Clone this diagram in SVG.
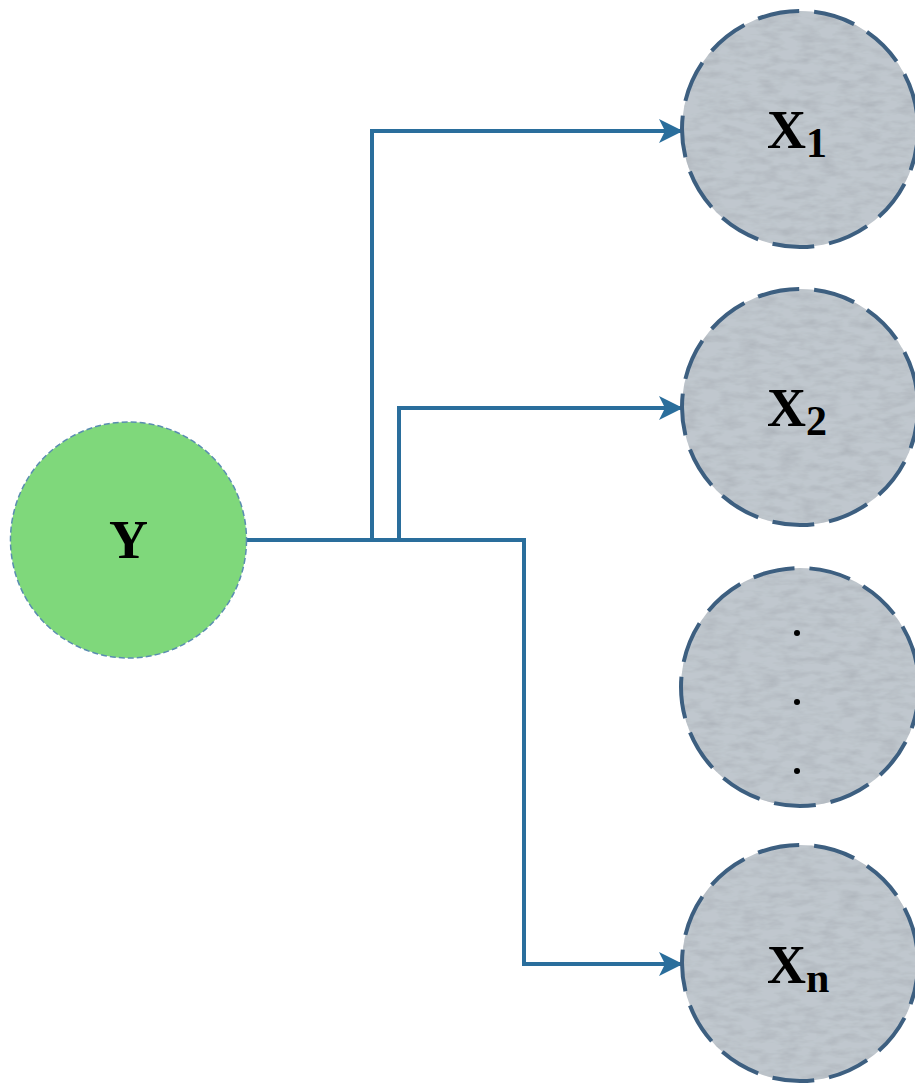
<svg xmlns="http://www.w3.org/2000/svg" width="915" height="1084" viewBox="0 0 915 1084">
  <style>
    .xfill { fill: #c0c7ce; }
    .xnode { fill: none; stroke: #3d5f80; stroke-width: 4; stroke-dasharray: 42 15; }
    .ynode { fill: #7fd87b; stroke: #5a8db0; stroke-width: 1.5; stroke-dasharray: 6 3; }
    .lbl { font-family: "Liberation Serif", "Times New Roman", serif; font-weight: bold; font-size: 54px; fill: #000; }
    .sub { font-size: 42px; }
    .conn { fill: none; stroke: #2a6e9c; stroke-width: 4; }
    .dot { fill: #000; }
  </style>
  <defs>
    <filter id="noise" x="0" y="0" width="100%" height="100%">
      <feTurbulence type="fractalNoise" baseFrequency="0.05 0.14" numOctaves="3" seed="4" result="t"/>
      <feColorMatrix in="t" type="matrix" values="0 0 0 0 0.40  0 0 0 0 0.43  0 0 0 0 0.47  0 0 0 -1.4 0.85" result="g"/>
      <feComposite in="g" in2="SourceGraphic" operator="in" result="n"/>
      <feMerge><feMergeNode in="SourceGraphic"/><feMergeNode in="n"/></feMerge>
    </filter>
    <marker id="arrow" markerWidth="24" markerHeight="24" viewBox="0 0 24 24" refX="23" refY="12" orient="auto" markerUnits="userSpaceOnUse">
      <path d="M0,0 L24,12 L0,24 L6,12 Z" fill="#2a6e9c"/>
    </marker>
  </defs>

  <g id="connectors">
    <path class="conn" d="M246,540 L524,540 L524,964 L682,964" marker-end="url(#arrow)"/>
    <path class="conn" d="M372,540 L372,131 L682,131" marker-end="url(#arrow)"/>
    <path class="conn" d="M399,540 L399,408 L682,408" marker-end="url(#arrow)"/>
  </g>

  <g id="node-Y">
    <circle class="ynode" cx="128.5" cy="540" r="118"/>
    <text class="lbl" x="128.5" y="558" text-anchor="middle">Y</text>
  </g>

  <g id="node-X1">
    <circle class="xfill" cx="800" cy="129" r="118" filter="url(#noise)"/>
    <circle class="xnode" cx="800" cy="129" r="118"/>
    <text class="lbl" x="767" y="148">X<tspan class="sub" dy="9">1</tspan></text>
  </g>

  <g id="node-X2">
    <circle class="xfill" cx="800" cy="407" r="118" filter="url(#noise)"/>
    <circle class="xnode" cx="800" cy="407" r="118"/>
    <text class="lbl" x="767" y="426">X<tspan class="sub" dy="9">2</tspan></text>
  </g>

  <g id="node-dots">
    <circle class="xfill" cx="800" cy="687" r="119" filter="url(#noise)"/>
    <circle class="xnode" cx="800" cy="687" r="119"/>
    <circle class="dot" cx="797" cy="633" r="3"/>
    <circle class="dot" cx="797" cy="702" r="3"/>
    <circle class="dot" cx="797" cy="771" r="3"/>
  </g>

  <g id="node-Xn">
    <circle class="xfill" cx="800" cy="963" r="118" filter="url(#noise)"/>
    <circle class="xnode" cx="800" cy="963" r="118"/>
    <text class="lbl" x="767" y="983">X<tspan class="sub" dy="9">n</tspan></text>
  </g>
</svg>
